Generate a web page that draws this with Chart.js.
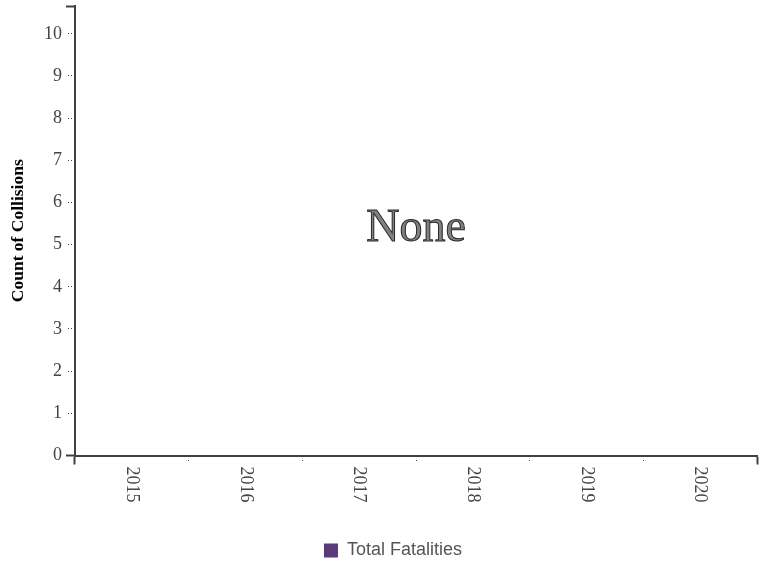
<!DOCTYPE html>
<html>
<head>
<meta charset="utf-8">
<script src="https://cdn.jsdelivr.net/npm/chart.js@4"></script>
<style>
    html, body { margin: 0; padding: 0; background: #fff; }
    #grafico { display: block; }
</style>
</head>
<body>
<canvas id="grafico" width="759" height="565"></canvas>
<script>
const anos = ['2015', '2016', '2017', '2018', '2019', '2020'];
const totalFatalidades = [0, 0, 0, 0, 0, 0];
const ticksY = [0, 1, 2, 3, 4, 5, 6, 7, 8, 9, 10];
const TOPO_Y = 10.66;
const TEXTO_VAZIO = 'None';

const COR_EIXO = '#404040';
const COR_TEXTO = '#444';
const COR_SERIE = '#5a3a78';

// pontas do eixo: traço cheio; o resto: pontinhos
const bordaY = (c) => c.tick && (c.tick.value === 0 || c.tick.value === TOPO_Y);
const bordaX = (c) => c.index === 0 || c.index === undefined;

// rótulos do eixo x girados no sentido horário
const rotulosX = {
    id: 'rotulosX',
    afterDraw(chart) {
        const esc = chart.scales.x;
        const ctx = chart.ctx;
        ctx.save();
        ctx.font = '18px "Liberation Serif"';
        ctx.fillStyle = COR_TEXTO;
        ctx.textAlign = 'left';
        ctx.textBaseline = 'middle';
        esc.ticks.forEach((t, i) => {
            ctx.save();
            ctx.translate(esc.getPixelForTick(i), esc.top + 11);
            ctx.rotate(Math.PI / 2);
            ctx.fillText(esc.getLabelForValue(t.value), 0, 0);
            ctx.restore();
        });
        ctx.restore();
    }
};

const textoCentral = {
    id: 'textoCentral',
    afterDraw(chart) {
        const { ctx, chartArea } = chart;
        const cx = (chartArea.left + chartArea.right) / 2;
        const cy = (chartArea.top + chartArea.bottom) / 2;
        ctx.save();
        ctx.font = '46px "Liberation Serif"';
        ctx.textAlign = 'center';
        ctx.textBaseline = 'alphabetic';
        ctx.fillStyle = '#808080';
        ctx.strokeStyle = '#2a2a2a';
        ctx.lineWidth = 1;
        ctx.fillText(TEXTO_VAZIO, cx, cy + 10);
        ctx.strokeText(TEXTO_VAZIO, cx, cy + 10);
        ctx.restore();
    }
};

new Chart(document.getElementById('grafico'), {
    type: 'bar',
    data: {
        labels: anos,
        datasets: [{
            label: 'Total Fatalities',
            data: totalFatalidades,
            backgroundColor: COR_SERIE,
            borderWidth: 0
        }]
    },
    options: {
        responsive: false,
        animation: false,
        layout: { padding: { left: 29, right: 2, top: 6, bottom: -4.5 } },
        plugins: {
            tooltip: { enabled: false },
            legend: {
                position: 'bottom',
                labels: {
                    boxWidth: 14,
                    boxHeight: 14,
                    padding: 2,
                    color: '#555',
                    font: { family: '"Liberation Sans"', size: 18 }
                }
            }
        },
        scales: {
            x: {
                border: { color: COR_EIXO, width: 2 },
                grid: {
                    drawOnChartArea: false,
                    tickLength: 9,
                    tickColor: COR_EIXO,
                    tickWidth: (c) => bordaX(c) ? 2 : 1,
                    tickBorderDash: (c) => bordaX(c) ? [] : [0, 3, 1, 10]
                },
                ticks: { display: false },
                afterFit(s) {
                    s.height = 84;
                    s.paddingLeft = 0;
                    s.paddingRight = 0;
                }
            },
            y: {
                min: 0,
                max: TOPO_Y,
                border: { color: COR_EIXO, width: 2 },
                afterBuildTicks(s) {
                    s.ticks = ticksY.map(v => ({ value: v })).concat([{ value: TOPO_Y }]);
                },
                afterFit(s) {
                    s.width = 46;
                    s.paddingTop = 0;
                    s.paddingBottom = 0;
                },
                grid: {
                    drawOnChartArea: false,
                    tickLength: 9,
                    tickColor: COR_EIXO,
                    tickWidth: (c) => bordaY(c) ? 2 : 1,
                    tickBorderDash: (c) => bordaY(c) ? [] : [0, 2, 1, 2, 1, 10]
                },
                ticks: {
                    padding: 4,
                    color: COR_TEXTO,
                    font: { family: '"Liberation Serif"', size: 18 },
                    callback: (v) => ticksY.includes(v) ? String(v) : ''
                },
                title: {
                    display: true,
                    text: 'Count of Collisions',
                    color: '#000',
                    font: { family: '"Liberation Serif"', size: 17.5, weight: 'bold' },
                    padding: { top: -21, bottom: 0 }
                }
            }
        }
    },
    plugins: [rotulosX, textoCentral]
});
</script>
</body>
</html>
